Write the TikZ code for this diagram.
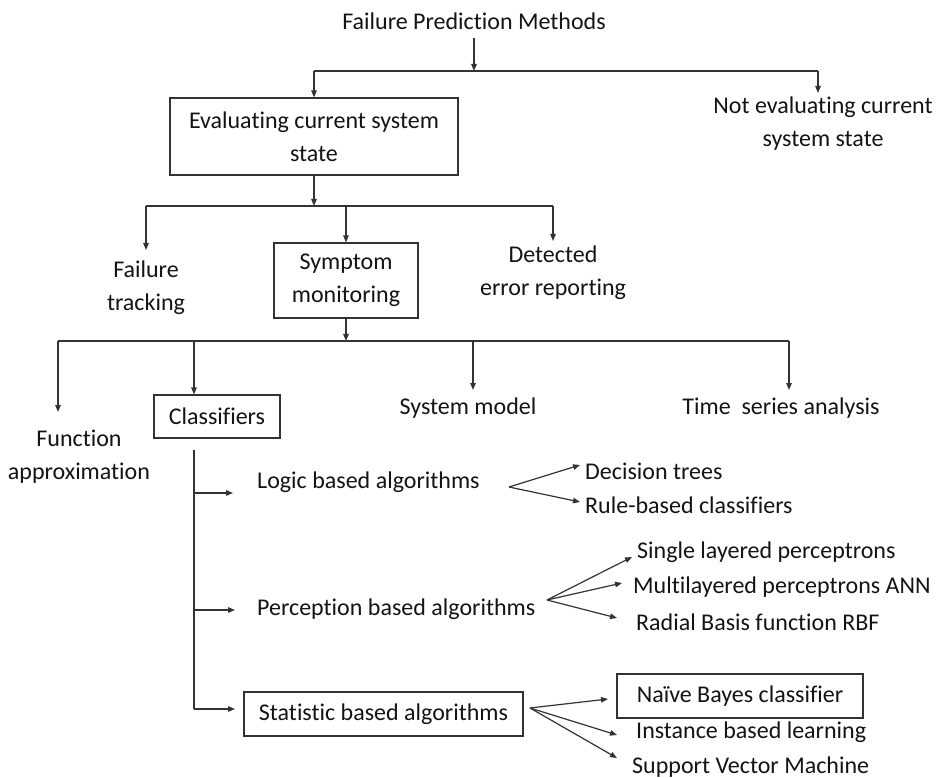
\documentclass[tikz,border=0pt]{standalone}
\usepackage{fontspec}
\setmainfont{Carlito}[Ligatures=NoCommon]
\usetikzlibrary{arrows.meta}
\definecolor{linegray}{HTML}{333333}
\definecolor{ink}{HTML}{141414}
\begin{document}
\begin{tikzpicture}[x=1pt,y=-1pt,
  line/.style={draw=linegray, line width=1.2pt},
  arr/.style={line, -{Triangle[length=7pt,width=5.5pt]}},
  txt/.style={font=\fontsize{24}{33}\selectfont, text=ink, inner sep=0pt},
  box/.style={txt, draw=linegray, line width=1.2pt, align=center},
  ]
\useasboundingbox[fill=white] (0,0) rectangle (938,778);

% ---- nodes ----
\node[txt, anchor=base] (title) at (474,30) {Failure Prediction Methods};
\node[box, minimum width=288pt, minimum height=77pt] (eval) at (314,136.5) {Evaluating current system\\state};
\node[txt, align=center] (noteval) at (823,124) {Not evaluating current\\system state};
\node[txt, align=center] (fail) at (146,287.5) {Failure\\tracking};
\node[box, minimum width=144pt, minimum height=75pt] (symp) at (346,280.5) {Symptom\\monitoring};
\node[txt, align=center] (det) at (553,273) {Detected\\error reporting};
\node[txt, align=center] (func) at (79,457) {Function\\approximation};
\node[box, minimum width=126pt, minimum height=43pt] (cls) at (217,416.5) {Classifiers};
\node[txt, anchor=base] (sysm) at (468,414) {System model};
\node[txt, anchor=base] (tsa) at (781,414) {Time\ \ series analysis};
\node[txt, anchor=base west] (logic) at (257,488) {Logic based algorithms};
\node[txt, anchor=base west] (perc) at (257,615) {Perception based algorithms};
\node[box, minimum width=279pt, minimum height=44pt] (stat) at (383.5,714) {Statistic based algorithms};
\node[txt, anchor=base west] (dt) at (585,479) {Decision trees};
\node[txt, anchor=base west] (rb) at (585,513) {Rule-based classifiers};
\node[txt, anchor=base west] (slp) at (637,558) {Single layered perceptrons};
\node[txt, anchor=base west] (mlp) at (633,593) {Multilayered perceptrons ANN};
\node[txt, anchor=base west] (rbf) at (636,630) {Radial Basis function RBF};
\node[box, minimum width=246pt, minimum height=44pt] (nb) at (740,696) {Naïve Bayes classifier};
\node[txt, anchor=base west] (ibl) at (636,738) {Instance based learning};
\node[txt, anchor=base west] (svm) at (632,773) {Support Vector Machine};

% ---- junctions and arrow tips ----
\coordinate (j1) at (474,71);
\coordinate (j1l) at (314,71);
\coordinate (j1r) at (818,71);
\coordinate (tnoteval) at (818,93);
\coordinate (j2) at (314,206);
\coordinate (j2l) at (146,206);
\coordinate (j2r) at (553,206);
\coordinate (tfail) at (146,250);
\coordinate (tdet) at (553,241);
\coordinate (j3) at (346,341);
\coordinate (j3l) at (58,341);
\coordinate (j3r) at (789,341);
\coordinate (tfunc) at (58,412);
\coordinate (tsysm) at (473,390);
\coordinate (ttsa) at (789,390);
\coordinate (ctop) at (194,450);
\coordinate (cbot) at (194,709);
\coordinate (blogic) at (194,493);
\coordinate (tlogic) at (233,493);
\coordinate (bperc) at (194,610);
\coordinate (tperc) at (235,610);
\coordinate (tstat) at (235,709);
\coordinate (flogic) at (509,487);
\coordinate (tdt) at (580,465);
\coordinate (trb) at (580,502);
\coordinate (fperc) at (547,600);
\coordinate (tslp) at (632,557);
\coordinate (tmlp) at (622,583);
\coordinate (trbf) at (617,618);
\coordinate (fstat) at (530,708);
\coordinate (tnb) at (608,699);
\coordinate (tibl) at (617,735);
\coordinate (tsvm) at (617,758);

% ---- first level ----
\draw[arr, shorten <=8pt] (title.south) -- (j1);
\draw[line] (j1l) -- (j1r);
\draw[arr] (j1l) -- (eval.north);
\draw[arr] (j1r) -- (tnoteval);

% ---- second level ----
\draw[arr] (eval.south) -- (j2);
\draw[line] (j2l) -- (j2r);
\draw[arr] (j2l) -- (tfail);
\draw[arr] (j2l -| symp.north) -- (symp.north);
\draw[arr] (j2r) -- (tdet);

% ---- third level ----
\draw[arr] (symp.south) -- (j3);
\draw[line] (j3l) -- (j3r);
\draw[arr] (j3l) -- (tfunc);
\draw[arr] (j3l -| ctop) -- (ctop |- cls.north);
\draw[arr] (j3l -| tsysm) -- (tsysm);
\draw[arr] (j3r) -- (ttsa);

% ---- classifier families ----
\draw[line] (ctop) -- (cbot);
\draw[arr] (blogic) -- (tlogic);
\draw[arr] (bperc) -- (tperc);
\draw[arr] (cbot) -- (tstat);

% ---- fans ----
\draw[arr] (flogic) -- (tdt);
\draw[arr] (flogic) -- (trb);
\draw[arr] (fperc) -- (tslp);
\draw[arr] (fperc) -- (tmlp);
\draw[arr] (fperc) -- (trbf);
\draw[arr] (fstat) -- (tnb);
\draw[arr] (fstat) -- (tibl);
\draw[arr] (fstat) -- (tsvm);
\end{tikzpicture}
\end{document}
